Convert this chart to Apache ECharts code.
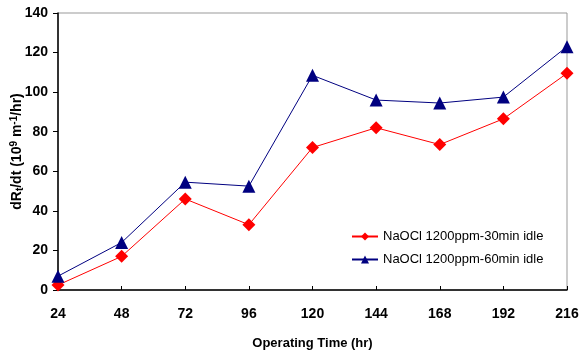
<!DOCTYPE html>
<html>
<head>
<meta charset="utf-8">
<script src="https://cdn.jsdelivr.net/npm/echarts@6/dist/echarts.min.js"></script>
<style>
  html, body { margin: 0; padding: 0; background: #fff; }
  #container { width: 587px; height: 354px; }
</style>
</head>
<body>
<div id="container"></div>
<script>
let hours = ['24', '48', '72', '96', '120', '144', '168', '192', '216'];
let idle30 = [2.5, 17, 46, 33, 72, 82, 73.5, 86.5, 109.5];
let idle60 = [7, 24, 54.5, 52.5, 108.5, 96, 94.5, 97.5, 123];
let seriesNames = ['NaOCl 1200ppm-30min idle', 'NaOCl 1200ppm-60min idle'];

let dom = document.getElementById('container');
let myChart = echarts.init(dom);
let font = 'Liberation Sans, Arial, sans-serif';

let option = {
    animation: false,
    grid: {
        left: 58,
        right: 20,
        top: 13,
        bottom: 64,
        outerBoundsMode: 'none',
        containLabel: false,
        show: true,
        borderColor: '#999',
        borderWidth: 1
    },
    legend: {
        orient: 'vertical',
        left: 346,
        top: 225,
        itemWidth: 26,
        itemHeight: 10,
        itemGap: 10,
        textStyle: { fontFamily: font, fontSize: 13, color: '#000' },
        data: seriesNames
    },
    xAxis: {
        type: 'category',
        boundaryGap: false,
        data: hours,
        name: 'Operating Time (hr)',
        nameLocation: 'middle',
        nameGap: 47,
        nameMoveOverlap: false,
        nameTextStyle: { fontFamily: font, fontSize: 13, fontWeight: 'bold', color: '#000' },
        axisLine: { lineStyle: { color: '#000', width: 1.5 } },
        axisTick: { inside: true, length: 4, lineStyle: { color: '#000' } },
        axisLabel: { fontFamily: font, fontSize: 14, fontWeight: 'bold', color: '#000', margin: 17 },
        splitLine: { show: false }
    },
    yAxis: {
        type: 'value',
        min: 0,
        max: 140,
        interval: 20,
        name: 'dR{sub|t}/dt (10{sup|9} m{sup|-1}/hr)',
        nameLocation: 'middle',
        nameGap: 33,
        nameMoveOverlap: false,
        nameTextStyle: {
            fontFamily: font, fontSize: 14, fontWeight: 'bold', color: '#000',
            rich: {
                sub: { fontFamily: font, fontSize: 10, fontWeight: 'bold', color: '#000', verticalAlign: 'bottom', padding: [4, 0, 0, 0] },
                sup: { fontFamily: font, fontSize: 10, fontWeight: 'bold', color: '#000', verticalAlign: 'top', padding: [0, 0, 6, 0] }
            }
        },
        axisLine: { show: true, lineStyle: { color: '#000', width: 1.5 } },
        axisTick: { show: true, length: 5, lineStyle: { color: '#000' } },
        axisLabel: { fontFamily: font, fontSize: 14, fontWeight: 'bold', color: '#000', margin: 10 },
        splitLine: { show: false }
    },
    series: [
        {
            name: seriesNames[0],
            type: 'line',
            data: idle30,
            symbol: 'diamond',
            symbolSize: 13,
            itemStyle: { color: '#ff0000' },
            lineStyle: { color: '#ff0000', width: 1 }
        },
        {
            name: seriesNames[1],
            type: 'line',
            data: idle60,
            symbol: 'triangle',
            symbolSize: 13,
            itemStyle: { color: '#000080' },
            lineStyle: { color: '#000080', width: 1 }
        }
    ]
};
myChart.setOption(option);
</script>
</body>
</html>
